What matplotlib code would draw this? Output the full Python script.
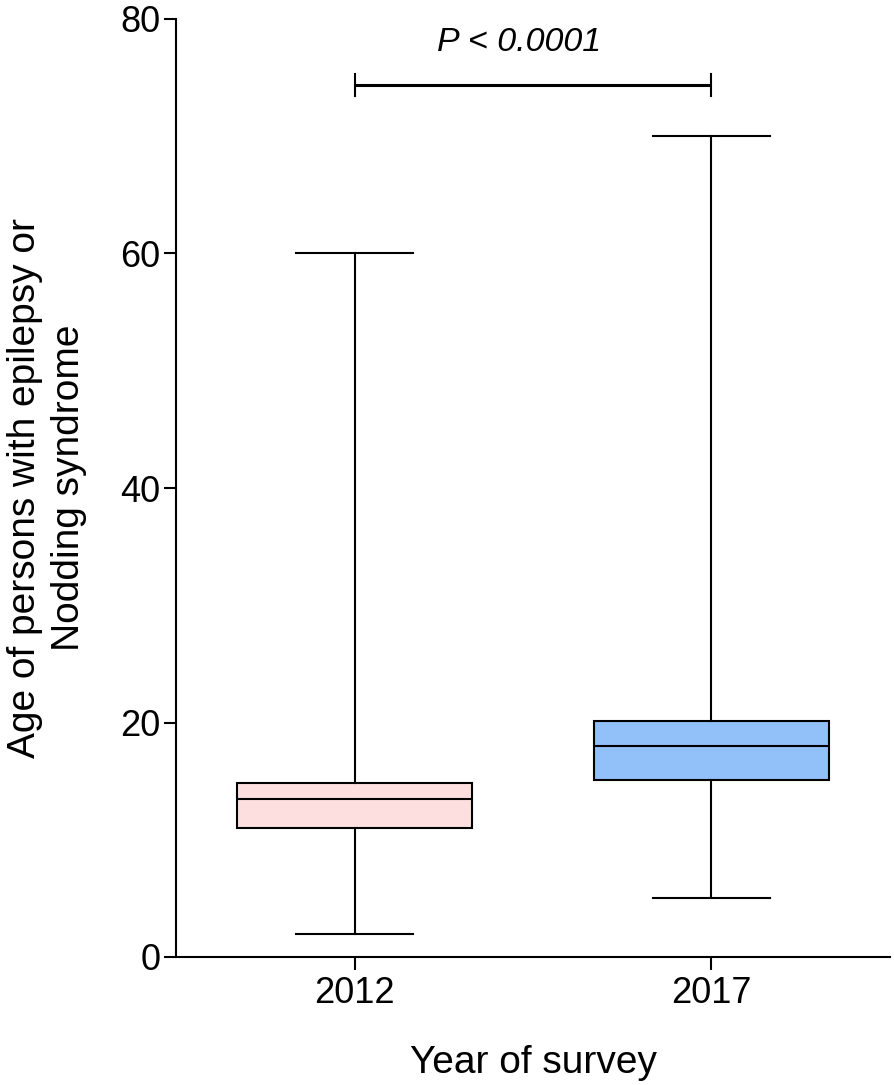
#!/usr/bin/env python3
"""
Box plot: age of persons with epilepsy or Nodding syndrome, 2012 vs 2017 survey.
Writes out.png (894x1085).
"""

import matplotlib
matplotlib.use("Agg")
import matplotlib.pyplot as plt

plt.rcParams["font.family"] = ["Liberation Sans", "DejaVu Sans"]

# Values (min / Q1 / median / Q3 / max)
YEARS = ["2012", "2017"]
WHISK_LO = [2, 5]
Q1 = [11, 15.1]
MEDIAN = [13.5, 18]
Q3 = [14.8, 20.1]
WHISK_HI = [60, 70]

COLORS = ["#FDDFE0", "#92C0F8"]
P_TEXT = "P < 0.0001"
P_BAR_Y = 74.4

LW = 1.5


def main():
    fig = plt.figure(figsize=(8.94, 10.85), dpi=100)
    ax = fig.add_axes([176 / 894, 1 - 957 / 1085, (890 - 176) / 894, (957 - 19) / 1085])

    stats = []
    for i, yr in enumerate(YEARS):
        stats.append({
            "label": yr,
            "whislo": WHISK_LO[i],
            "q1": Q1[i],
            "med": MEDIAN[i],
            "q3": Q3[i],
            "whishi": WHISK_HI[i],
            "fliers": [],
        })

    positions = [1, 2]
    bp = ax.bxp(stats, positions=positions, widths=0.66, patch_artist=True,
                showfliers=False,
                boxprops=dict(linewidth=LW, edgecolor="black"),
                medianprops=dict(color="black", linewidth=LW),
                whiskerprops=dict(color="black", linewidth=LW),
                capprops=dict(color="black", linewidth=LW),
                capwidths=0.33)
    for patch, c in zip(bp["boxes"], COLORS):
        patch.set_facecolor(c)

    # significance bracket
    ax.plot(positions, [P_BAR_Y, P_BAR_Y], color="black", lw=2.2,
            solid_capstyle="butt", clip_on=False)
    for x in positions:
        ax.plot([x, x], [P_BAR_Y - 0.95, P_BAR_Y + 0.95], color="black",
                lw=1.5, clip_on=False)
    ax.text(1.46, 78.0, P_TEXT, ha="center", va="center", fontsize=24.5,
            style="italic")

    ax.set_xlim(0.5, 2.5)
    ax.set_ylim(0, 80)
    ax.set_yticks([0, 20, 40, 60, 80])
    ax.set_xticks(positions)
    ax.set_xticklabels(YEARS)
    ax.tick_params(axis="both", labelsize=26, length=9, width=LW)
    ax.tick_params(axis="y", pad=2)
    ax.tick_params(axis="x", pad=5)

    for side in ("top", "right"):
        ax.spines[side].set_visible(False)
    for side in ("left", "bottom"):
        ax.spines[side].set_linewidth(LW)

    ax.set_xlabel("Year of survey", fontsize=28, labelpad=24)
    ax.set_ylabel("Age of persons with epilepsy or\nNodding syndrome",
                  fontsize=28, labelpad=24, linespacing=1.3)

    fig.savefig("out.png", dpi=100)


if __name__ == "__main__":
    main()
